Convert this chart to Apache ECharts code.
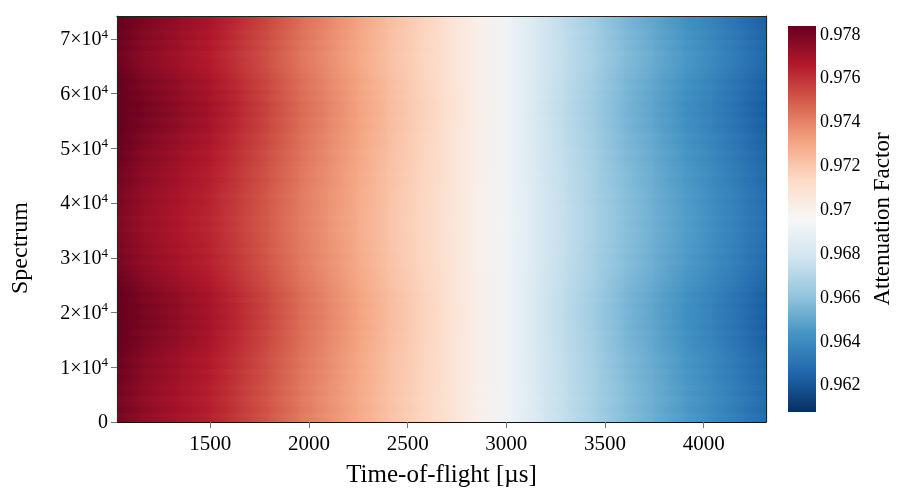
<!DOCTYPE html>
<html>
<head>
<meta charset="utf-8">
<script src="https://cdn.jsdelivr.net/npm/echarts@6/dist/echarts.min.js"></script>
<style>
  html, body { margin: 0; padding: 0; background: #ffffff; }
  #chart { width: 898px; height: 498px; }
</style>
</head>
<body>
<div id="chart"></div>
<script>
// Time-of-flight sample positions (µs) across the measured range
const tofPoints = [1027, 1150, 1350, 1500, 1650, 1800, 1950, 2100, 2250, 2400, 2550, 2700,
                   2850, 3000, 3150, 3300, 3450, 3600, 3750, 3900, 4050, 4200, 4316];
// Attenuation factor along a typical spectrum at those positions
const attenuationProfile = [0.97805, 0.9775, 0.9769, 0.97646, 0.9758, 0.9751, 0.9743, 0.97365,
                            0.97295, 0.97224, 0.97162, 0.97092, 0.97013, 0.96925, 0.96828, 0.9674,
                            0.96661, 0.96582, 0.9652, 0.96458, 0.96397, 0.96326, 0.96274];
// Spectrum bands (index edges), 1000 spectra per band
const spectrumEdges = [];
for (let s = 0; s <= 74000; s += 1000) spectrumEdges.push(s);
// Contrast of each spectrum band around the neutral attenuation level
const bandContrast = [
  1.00, 0.99, 1.01, 1.00, 0.99, 1.01, 1.00,
  1.01, 1.02, 1.01, 1.03, 1.02, 1.03, 1.04,
  1.05, 1.06, 1.05, 1.07, 1.06, 1.07, 1.06, 1.07, 1.05, 1.06, 1.04, 1.03,
  1.02, 1.01, 1.00, 0.99, 1.00, 0.98, 0.99, 0.98,
  0.98, 0.97, 0.98, 0.97, 0.98, 0.98, 0.99, 0.98, 0.99, 1.00, 1.01, 1.00,
  1.01, 1.02, 1.03, 1.02, 1.04, 1.05, 1.04, 1.06,
  1.07, 1.06, 1.08, 1.07, 1.08, 1.06, 1.07, 1.05, 1.06, 1.04, 1.03, 1.02,
  1.02, 1.01, 1.03, 1.02, 1.04, 1.03, 1.05, 1.06
];
const neutralLevel = 0.9696;
// Colour bar range and tick labels
const colorRange = [0.9608, 0.9784];
const colorTicks = [0.962, 0.964, 0.966, 0.968, 0.97, 0.972, 0.974, 0.976, 0.978];
const tofTicks = [1500, 2000, 2500, 3000, 3500, 4000];
const spectrumTicks = [0, 10000, 20000, 30000, 40000, 50000, 60000, 70000];

// RdBu colour map, from high (red) to low (blue)
const rdbu = ['#67001f', '#b2182b', '#d6604d', '#f4a582', '#fddbc7', '#f7f7f7',
              '#d1e5f0', '#92c5de', '#4393c3', '#2166ac', '#053061'];

function colorOf(v) {
  let t = (colorRange[1] - v) / (colorRange[1] - colorRange[0]);
  t = Math.max(0, Math.min(1, t));
  return echarts.color.lerp(t, rdbu);
}

// Cells: [tof0, tof1, spec0, spec1, valueLeft, valueRight]
const cells = [];
for (let r = 0; r < bandContrast.length; r++) {
  const g = bandContrast[r];
  for (let i = 0; i < tofPoints.length - 1; i++) {
    const a = neutralLevel + (attenuationProfile[i] - neutralLevel) * g;
    const b = neutralLevel + (attenuationProfile[i + 1] - neutralLevel) * g;
    cells.push([tofPoints[i], tofPoints[i + 1], spectrumEdges[r], spectrumEdges[r + 1], a, b]);
  }
}

const FONT = 'Liberation Serif';
const chart = echarts.init(document.getElementById('chart'), null, { renderer: 'canvas' });

const frameAxis = { show: true, axisLine: { show: true, onZero: false, lineStyle: { color: '#222', width: 1.2 } },
                    axisTick: { show: false }, axisLabel: { show: false }, splitLine: { show: false } };

chart.setOption({
  backgroundColor: '#ffffff',
  animation: false,
  textStyle: { fontFamily: FONT },
  grid: [
    { left: 117, right: 132, top: 16, bottom: 76 },
    { left: 788, width: 28, top: 26, height: 386 }
  ],
  graphic: [
    {
      type: 'text', z: 20,
      rotation: Math.PI / 2,
      x: 21, y: 248,
      style: { text: 'Spectrum', fontFamily: FONT, fontSize: 24, fill: '#000', align: 'center', verticalAlign: 'middle' }
    }
  ],
  xAxis: [
    {
      type: 'value', gridIndex: 0, min: tofPoints[0], max: tofPoints[tofPoints.length - 1],
      name: 'Time-of-flight [µs]', nameLocation: 'middle', nameGap: 41,
      nameTextStyle: { fontFamily: FONT, fontSize: 25, color: '#000' },
      axisLine: { show: true, onZero: false, lineStyle: { color: '#111', width: 1.2 } },
      axisTick: { show: true, length: 6, lineStyle: { color: '#777' }, customValues: tofTicks },
      axisLabel: { fontFamily: FONT, fontSize: 21, color: '#000', margin: 12, customValues: tofTicks,
                   formatter: function (v) { return String(v); } },
      splitLine: { show: false }
    },
    { type: 'value', gridIndex: 1, min: 0, max: 1, show: false },
    Object.assign({ type: 'value', gridIndex: 0, position: 'top', min: tofPoints[0], max: tofPoints[tofPoints.length - 1] }, frameAxis)
  ],
  yAxis: [
    {
      type: 'value', gridIndex: 0, min: 0, max: 74200,
      axisLine: { show: true, onZero: false, lineStyle: { color: '#666', width: 1.2 } },
      axisTick: { show: true, length: 6, lineStyle: { color: '#777' }, customValues: spectrumTicks },
      axisLabel: {
        fontFamily: FONT, color: '#000', margin: 9, customValues: spectrumTicks,
        formatter: function (v) {
          if (v === 0) return '{b|0}';
          return '{b|' + Math.round(v / 10000) + '×10}{s|4}';
        },
        rich: {
          b: { fontFamily: FONT, fontSize: 20, color: '#000', lineHeight: 22, verticalAlign: 'bottom' },
          s: { fontFamily: FONT, fontSize: 13, color: '#000', lineHeight: 22, verticalAlign: 'top', padding: [0, 0, 8, 0] }
        }
      },
      splitLine: { show: false }
    },
    {
      type: 'value', gridIndex: 1, min: colorRange[0], max: colorRange[1], position: 'right',
      name: 'Attenuation Factor', nameLocation: 'middle', nameGap: 55, nameRotate: 90,
      nameTextStyle: { fontFamily: FONT, fontSize: 23, color: '#000' },
      axisLine: { show: false },
      axisTick: { show: false, customValues: colorTicks },
      axisLabel: { fontFamily: FONT, fontSize: 18, color: '#000', margin: 4, customValues: colorTicks,
                   formatter: function (v) { return String(v); } },
      splitLine: { show: false }
    },
    Object.assign({ type: 'value', gridIndex: 0, position: 'right', min: 0, max: 74200 }, frameAxis)
  ],
  series: [
    {
      type: 'custom', xAxisIndex: 0, yAxisIndex: 0, clip: true,
      encode: { x: [0, 1], y: [2, 3] },
      data: cells,
      renderItem: function (params, api) {
        const p0 = api.coord([api.value(0), api.value(3)]);
        const p1 = api.coord([api.value(1), api.value(2)]);
        const x0 = Math.floor(p0[0]), y0 = Math.floor(p0[1]);
        const x1 = Math.ceil(p1[0]) + 1, y1 = Math.ceil(p1[1]) + 1;
        return {
          type: 'rect',
          shape: { x: x0, y: y0, width: x1 - x0, height: y1 - y0 },
          style: {
            fill: new echarts.graphic.LinearGradient(0, 0, 1, 0, [
              { offset: 0, color: colorOf(api.value(4)) },
              { offset: 1, color: colorOf(api.value(5)) }
            ])
          }
        };
      }
    },
    {
      type: 'custom', xAxisIndex: 1, yAxisIndex: 1,
      data: [[0, 1, colorRange[0], colorRange[1]]],
      renderItem: function (params, api) {
        const p0 = api.coord([api.value(0), api.value(3)]);
        const p1 = api.coord([api.value(1), api.value(2)]);
        const stops = rdbu.map(function (c, i) { return { offset: i / (rdbu.length - 1), color: c }; });
        return {
          type: 'rect',
          shape: { x: p0[0], y: p0[1], width: p1[0] - p0[0], height: p1[1] - p0[1] },
          style: { fill: new echarts.graphic.LinearGradient(0, 0, 0, 1, stops) }
        };
      }
    }
  ]
});
</script>
</body>
</html>
